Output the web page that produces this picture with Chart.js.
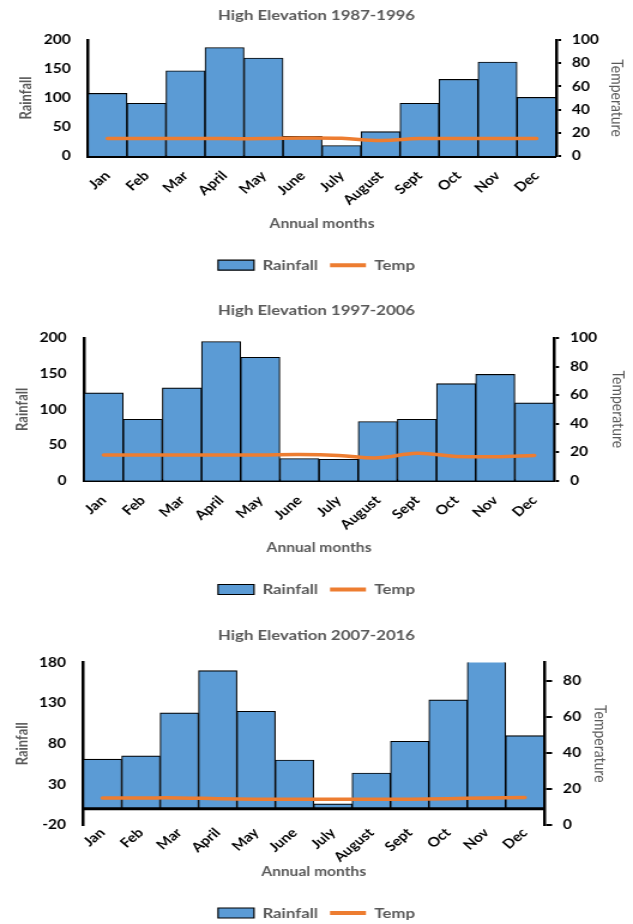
<!DOCTYPE html>
<html>
<head>
<meta charset="utf-8">
<script src="https://cdn.jsdelivr.net/npm/chart.js@4.4.1/dist/chart.umd.min.js"></script>
<style>
  html, body { margin: 0; padding: 0; background: #fff; width: 633px; height: 924px; overflow: hidden; position: relative; }
  canvas { position: absolute; left: 0; }
</style>
</head>
<body>
<!-- each panel is drawn on a narrower backing canvas and shown 633px wide -->
<canvas id="panel1" width="528" height="290" style="top:0px;width:633px;height:290px"></canvas>
<canvas id="panel2" width="528" height="318" style="top:292px;width:633px;height:318px"></canvas>
<canvas id="panel3" width="528" height="312" style="top:618px;width:633px;height:312px"></canvas>
<script>
// Monthly rainfall (left axis) and temperature (right axis), three decades.
const months = ['Jan', 'Feb', 'Mar', 'April', 'May', 'June', 'July', 'August', 'Sept', 'Oct', 'Nov', 'Dec'];

const rainfall1987 = [108, 91, 147, 187, 169, 34, 18, 42, 91, 132, 162, 101];
const temp1987     = [15, 15, 15, 15, 15, 15.5, 15.2, 13.3, 15, 15, 15, 15];

const rainfall1997 = [123, 86, 130, 195, 173, 31, 30, 83, 86, 136, 149, 109];
const temp1997     = [18, 18, 18, 18, 18, 18.3, 17.7, 16, 19.2, 17, 16.8, 17.7];

const rainfall2007 = [61, 65, 118, 170, 120, 60, 6, 44, 83, 134, 190, 90];
const temp2007     = [15, 15, 15, 14.6, 14.3, 14.2, 14.2, 14.2, 14.3, 14.6, 15, 15.2];

const rainTicksA = [0, 50, 100, 150, 200];
const tempTicksA = [0, 20, 40, 60, 80, 100];
const rainTicksC = [-20, 30, 80, 130, 180];
const tempTicksC = [0, 20, 40, 60, 80];

const FONT = 'Lato, "Open Sans", sans-serif';
const GREY = '#595959';
const BAR_BLUE = '#5B9BD5';
const LINE_ORANGE = '#ED7D31';

// Horizontal category baseline drawn at rainfall = 0 when the axis starts below zero.
const zeroLinePlugin = {
  id: 'zeroLine',
  afterDatasetsDraw(chart, args, opts) {
    if (!opts.display) return;
    const y = chart.scales.yR.getPixelForValue(0);
    const { left, right } = chart.chartArea;
    const ctx = chart.ctx;
    ctx.save();
    ctx.strokeStyle = '#000';
    ctx.lineWidth = 3;
    ctx.beginPath();
    ctx.moveTo(left, y);
    ctx.lineTo(right, y);
    ctx.stroke();
    ctx.restore();
  }
};

function legendItems(chart) {
  return chart.data.datasets.map((ds, i) => {
    const isLine = ds.type === 'line';
    return {
      text: ds.label,
      datasetIndex: i,
      fillStyle: isLine ? ds.borderColor : ds.backgroundColor,
      strokeStyle: isLine ? ds.borderColor : '#000',
      lineWidth: isLine ? 4 : 1.2,
      pointStyle: isLine ? 'line' : 'rect',
      fontColor: GREY,
      hidden: false
    };
  });
}

function drawPanel(id, p) {
  const g = p.layout;
  const fixTicks = list => scale => { scale.ticks = list.map(v => ({ value: v })); };
  return new Chart(document.getElementById(id), {
    plugins: [zeroLinePlugin],
    data: {
      labels: months,
      datasets: [
        {
          type: 'bar', label: 'Rainfall', data: p.rain, yAxisID: 'yR',
          backgroundColor: BAR_BLUE, borderColor: '#000', borderWidth: 1.1,
          barPercentage: 1, categoryPercentage: 1, order: 2, clip: 0
        },
        {
          type: 'line', label: 'Temp', data: p.temp, yAxisID: 'yT',
          borderColor: LINE_ORANGE, backgroundColor: LINE_ORANGE, borderWidth: 3.5,
          borderCapStyle: 'round', pointRadius: 0, tension: 0.4, order: 1
        }
      ]
    },
    options: {
      responsive: false,
      devicePixelRatio: 1,
      animation: false,
      events: [],
      layout: { padding: { top: 0, left: 0, right: 0, bottom: g.legendBottom } },
      plugins: {
        zeroLine: { display: p.zeroLine },
        title: {
          display: true, text: p.title, color: GREY,
          font: { family: FONT, size: 14, weight: 'bold' },
          padding: { top: g.titleTop, bottom: g.titleBottom }
        },
        legend: {
          position: 'bottom',
          labels: {
            usePointStyle: true, pointStyleWidth: 30, boxHeight: 10, padding: 10,
            color: GREY, font: { family: FONT, size: 14, weight: 'bold' },
            generateLabels: legendItems
          }
        },
        tooltip: { enabled: false }
      },
      scales: {
        x: {
          type: 'category', offset: true, z: 1,
          grid: { display: false, drawTicks: false },
          border: { display: !p.zeroLine, color: '#000', width: 3 },
          ticks: {
            color: '#000', font: { family: FONT, size: 13, weight: 'bold' },
            minRotation: 45, maxRotation: 45, autoSkip: false, padding: g.xTickPad
          },
          title: {
            display: true, text: 'Annual months', color: GREY,
            font: { family: FONT, size: 13, weight: 'bold' },
            padding: { top: 0, bottom: g.xTitlePad }
          },
          afterFit: s => { s.height = g.xHeight; }
        },
        yR: {
          type: 'linear', position: 'left', z: 1,
          min: p.rainTicks[0], max: p.rainTicks[p.rainTicks.length - 1],
          afterBuildTicks: fixTicks(p.rainTicks),
          grid: { display: false, drawTicks: false },
          border: { display: true, color: '#000', width: 2.5 },
          ticks: { color: '#000', font: { family: FONT, size: 13, weight: 'bold' }, padding: g.leftTickPad },
          title: {
            display: true, text: 'Rainfall', color: GREY,
            font: { family: FONT, size: 13, weight: 'bold' },
            padding: { top: g.leftTitlePad, bottom: 0 }
          },
          afterFit: s => { s.width = g.leftW; }
        },
        yT: {
          type: 'linear', position: 'right', z: 1,
          min: 0, max: p.tempMax,
          afterBuildTicks: fixTicks(p.tempTicks),
          grid: {
            display: true, drawOnChartArea: false, drawTicks: true,
            tickLength: g.rightTick, color: '#000', lineWidth: 2
          },
          border: { display: true, color: '#000', width: 2.5 },
          ticks: { color: '#000', font: { family: FONT, size: 13, weight: 'bold' }, padding: g.rightTickPad },
          title: {
            display: true, text: 'Temperature', color: GREY,
            font: { family: FONT, size: 14, weight: 'normal' },
            padding: { top: g.rightTitlePad, bottom: 0 }
          },
          afterFit: s => { s.width = g.rightW; }
        }
      }
    }
  });
}

drawPanel('panel1', {
  title: 'High Elevation 1987-1996',
  rain: rainfall1987, temp: temp1987,
  rainTicks: rainTicksA, tempTicks: tempTicksA, tempMax: 100, zeroLine: false,
  layout: {
    leftW: 73.4, rightW: 64.2, leftTickPad: 14.4, leftTitlePad: 14.4,
    rightTick: 4.2, rightTickPad: 8.9, rightTitlePad: 5.2,
    titleTop: 6.6, titleBottom: 16.6, xHeight: 92.2, xTickPad: 12, xTitlePad: 16.4, legendBottom: 7.8
  }
});

drawPanel('panel2', {
  title: 'High Elevation 1997-2006',
  rain: rainfall1997, temp: temp1997,
  rainTicks: rainTicksA, tempTicks: tempTicksA, tempMax: 100, zeroLine: false,
  layout: {
    leftW: 70.1, rightW: 65.9, leftTickPad: 14.5, leftTitlePad: 10.6,
    rightTick: 4.2, rightTickPad: 9.2, rightTitlePad: 4.1,
    titleTop: 9.6, titleBottom: 19.6, xHeight: 91.8, xTickPad: 12, xTitlePad: 16.7, legendBottom: 3.5
  }
});

drawPanel('panel3', {
  title: 'High Elevation 2007-2016',
  rain: rainfall2007, temp: temp2007,
  rainTicks: rainTicksC, tempTicks: tempTicksC, tempMax: 90, zeroLine: true,
  layout: {
    leftW: 69.5, rightW: 74.2, leftTickPad: 14.4, leftTitlePad: 10.6,
    rightTick: 6.7, rightTickPad: 9.1, rightTitlePad: 19.1,
    titleTop: 8.6, titleBottom: 19.1, xHeight: 71, xTickPad: 0, xTitlePad: 16.2, legendBottom: 0
  }
});
</script>
</body>
</html>
